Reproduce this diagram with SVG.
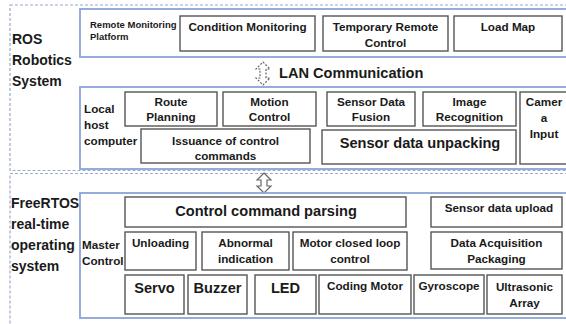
<svg xmlns="http://www.w3.org/2000/svg" width="566" height="324" viewBox="0 0 566 324">
<style>
text{font-family:"Liberation Sans",Arial,sans-serif;font-weight:bold;fill:#1a1a1a;font-size:11.7px}
.c{text-anchor:middle}
.big{font-size:14.6px}
.side{font-size:14px}
.small{font-size:9.5px}
.region{fill:none;stroke:#9aa9cf;stroke-width:1.2;stroke-dasharray:3,2}
.frame{fill:#fff;stroke:#8ba3d6;stroke-width:1.8}
.box{fill:#fff;stroke:#555;stroke-width:1.4}
.arrow{fill:#fff;stroke:#666;stroke-width:1.2}
</style>
<rect width="566" height="324" fill="#fff"/>
<g id="regions">
<rect class="region" x="10" y="5" width="570" height="165.5"/>
<rect class="region" x="10" y="173.5" width="570" height="170"/>
</g>
<g id="ros-label">
<text class="side" x="12" y="44">ROS</text>
<text class="side" x="12" y="65">Robotics</text>
<text class="side" x="12" y="86">System</text>
</g>
<g id="remote-platform">
<rect class="frame" x="80" y="9" width="490" height="48"/>
<text class="small" x="90" y="28">Remote Monitoring</text>
<text class="small" x="90" y="40">Platform</text>
</g>
<g id="condition-monitoring"><rect class="box" x="180" y="16" width="135" height="35"/><text class="c" x="247.5" y="31">Condition Monitoring</text></g>
<g id="temporary-remote-control"><rect class="box" x="323" y="16" width="125" height="35"/><text class="c" x="385.5" y="31">Temporary Remote</text><text class="c" x="385.5" y="47">Control</text></g>
<g id="load-map"><rect class="box" x="454" y="16" width="108" height="35"/><text class="c" x="508" y="31">Load Map</text></g>
<g id="connectors">
<path d="M263,62 L270,69 L266,69 L266,78 L270,78 L263,85 L256,78 L260,78 L260,69 L256,69 Z" fill="#fff" stroke="#666" stroke-width="1.2" stroke-dasharray="2,1.5"/>
<path class="arrow" d="M264,173 L271,180 L267,180 L267,186 L271,186 L264,193 L257,186 L261,186 L261,180 L257,180 Z"/>
</g>
<g id="lan-label"><text class="big" x="279" y="78">LAN Communication</text></g>
<g id="local-host">
<rect class="frame" x="80" y="87" width="490" height="82"/>
<text x="84" y="113">Local</text>
<text x="84" y="129">host</text>
<text x="84" y="145">computer</text>
</g>
<g id="route-planning"><rect class="box" x="125" y="92" width="92" height="34"/><text class="c" x="171" y="106">Route</text><text class="c" x="171" y="121">Planning</text></g>
<g id="motion-control"><rect class="box" x="223" y="92" width="93" height="34"/><text class="c" x="269.5" y="106">Motion</text><text class="c" x="269.5" y="121">Control</text></g>
<g id="sensor-data-fusion"><rect class="box" x="327" y="92" width="88" height="34"/><text class="c" x="371" y="106">Sensor Data</text><text class="c" x="371" y="121">Fusion</text></g>
<g id="image-recognition"><rect class="box" x="423" y="92" width="93" height="34"/><text class="c" x="469.5" y="106">Image</text><text class="c" x="469.5" y="121">Recognition</text></g>
<g id="camera-input"><rect class="box" x="520" y="92" width="50" height="72"/><text class="c" x="544" y="106">Camer</text><text class="c" x="544" y="122">a</text><text class="c" x="544" y="138">Input</text></g>
<g id="issuance"><rect class="box" x="141" y="129" width="169" height="34"/><text class="c" x="225.5" y="145">Issuance of control</text><text class="c" x="225.5" y="160">commands</text></g>
<g id="sensor-data-unpacking"><rect class="box" x="322" y="130" width="194" height="34"/><text class="c big" x="420" y="148">Sensor data unpacking</text></g>
<g id="freertos-label">
<text class="side" x="11" y="208">FreeRTOS</text>
<text class="side" x="11" y="229">real-time</text>
<text class="side" x="11" y="250">operating</text>
<text class="side" x="11" y="271">system</text>
</g>
<g id="master-control">
<rect class="frame" x="80" y="193" width="490" height="125"/>
<text x="82" y="249">Master</text>
<text x="82" y="265">Control</text>
</g>
<g id="control-command-parsing"><rect class="box" x="125" y="197" width="281" height="30"/><text class="c big" x="266" y="216">Control command parsing</text></g>
<g id="sensor-data-upload"><rect class="box" x="431" y="197" width="131" height="30"/><text class="c" x="499" y="212">Sensor data upload</text></g>
<g id="unloading"><rect class="box" x="125" y="232" width="71" height="38"/><text class="c" x="160.5" y="247">Unloading</text></g>
<g id="abnormal-indication"><rect class="box" x="202" y="232" width="87" height="38"/><text class="c" x="245.5" y="247">Abnormal</text><text class="c" x="245.5" y="263">indication</text></g>
<g id="motor-closed-loop"><rect class="box" x="293" y="232" width="114" height="38"/><text class="c" x="350" y="247">Motor closed loop</text><text class="c" x="350" y="263">control</text></g>
<g id="data-acquisition"><rect class="box" x="431" y="232" width="131" height="37"/><text class="c" x="496.5" y="247">Data Acquisition</text><text class="c" x="496.5" y="263">Packaging</text></g>
<g id="servo"><rect class="box" x="125" y="275" width="59" height="39"/><text class="c big" x="154.5" y="293">Servo</text></g>
<g id="buzzer"><rect class="box" x="188" y="275" width="59" height="39"/><text class="c big" x="217.5" y="293">Buzzer</text></g>
<g id="led"><rect class="box" x="255" y="275" width="61" height="39"/><text class="c big" x="285.5" y="293">LED</text></g>
<g id="coding-motor"><rect class="box" x="319" y="275" width="92" height="39"/><text class="c" x="365" y="290">Coding Motor</text></g>
<g id="gyroscope"><rect class="box" x="414" y="275" width="70" height="39"/><text class="c" x="449" y="290">Gyroscope</text></g>
<g id="ultrasonic-array"><rect class="box" x="487" y="275" width="75" height="39"/><text class="c" x="524.5" y="291">Ultrasonic</text><text class="c" x="524.5" y="307">Array</text></g>
</svg>
